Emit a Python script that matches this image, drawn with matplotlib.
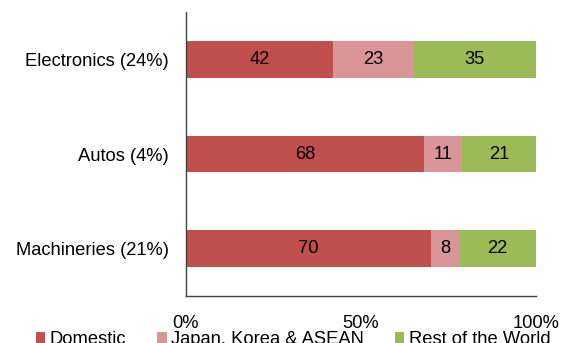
import matplotlib.pyplot as plt
import numpy as np

plt.rcParams['font.family'] = ['Liberation Sans', 'DejaVu Sans']

categories = ["Machineries (21%)", "Autos (4%)", "Electronics (24%)"]
domestic = [70, 68, 42]
jka = [8, 11, 23]
rest = [22, 21, 35]
series_names = ["Domestic", "Japan, Korea & ASEAN", "Rest of the World"]
colors = ["#C0504D", "#DA9599", "#9BBB59"]
x_ticks = [0, 50, 100]
x_tick_labels = ["0%", "50%", "100%"]

fs = 13.2

fig = plt.figure(figsize=(5.63, 3.43), dpi=100)
ax = fig.add_axes([0.330, 0.137, 0.622, 0.828])

y = np.arange(len(categories))
left = np.zeros(len(categories))
for vals, name, col in zip([domestic, jka, rest], series_names, colors):
    bars = ax.barh(y, vals, left=left, height=0.39, color=col, label=name, linewidth=0)
    for b, v in zip(bars, vals):
        ax.text(b.get_x() + b.get_width() / 2, b.get_y() + b.get_height() / 2, str(v),
                ha="center", va="center", fontsize=fs, color="black")
    left += np.array(vals)

ax.set_xlim(0, 100)
ax.set_ylim(-0.5, 2.5)
ax.set_yticks(y)
ax.set_yticklabels(categories, fontsize=fs)
ax.set_xticks(x_ticks)
ax.set_xticklabels(x_tick_labels, fontsize=fs)
ax.tick_params(axis="y", length=0, pad=12)
ax.tick_params(axis="x", length=0, pad=14)
for s in ["top", "right"]:
    ax.spines[s].set_visible(False)
for s in ["left", "bottom"]:
    ax.spines[s].set_color("#404040")
    ax.spines[s].set_linewidth(1.0)

fig.legend(loc="upper left", bbox_to_anchor=(36 / 563, 12 / 343), ncol=3, frameon=False,
           fontsize=fs, handlelength=0.5, handleheight=0.5, handletextpad=0.25,
           columnspacing=1.7, borderaxespad=0, borderpad=0)

fig.savefig("out.png", dpi=100)
